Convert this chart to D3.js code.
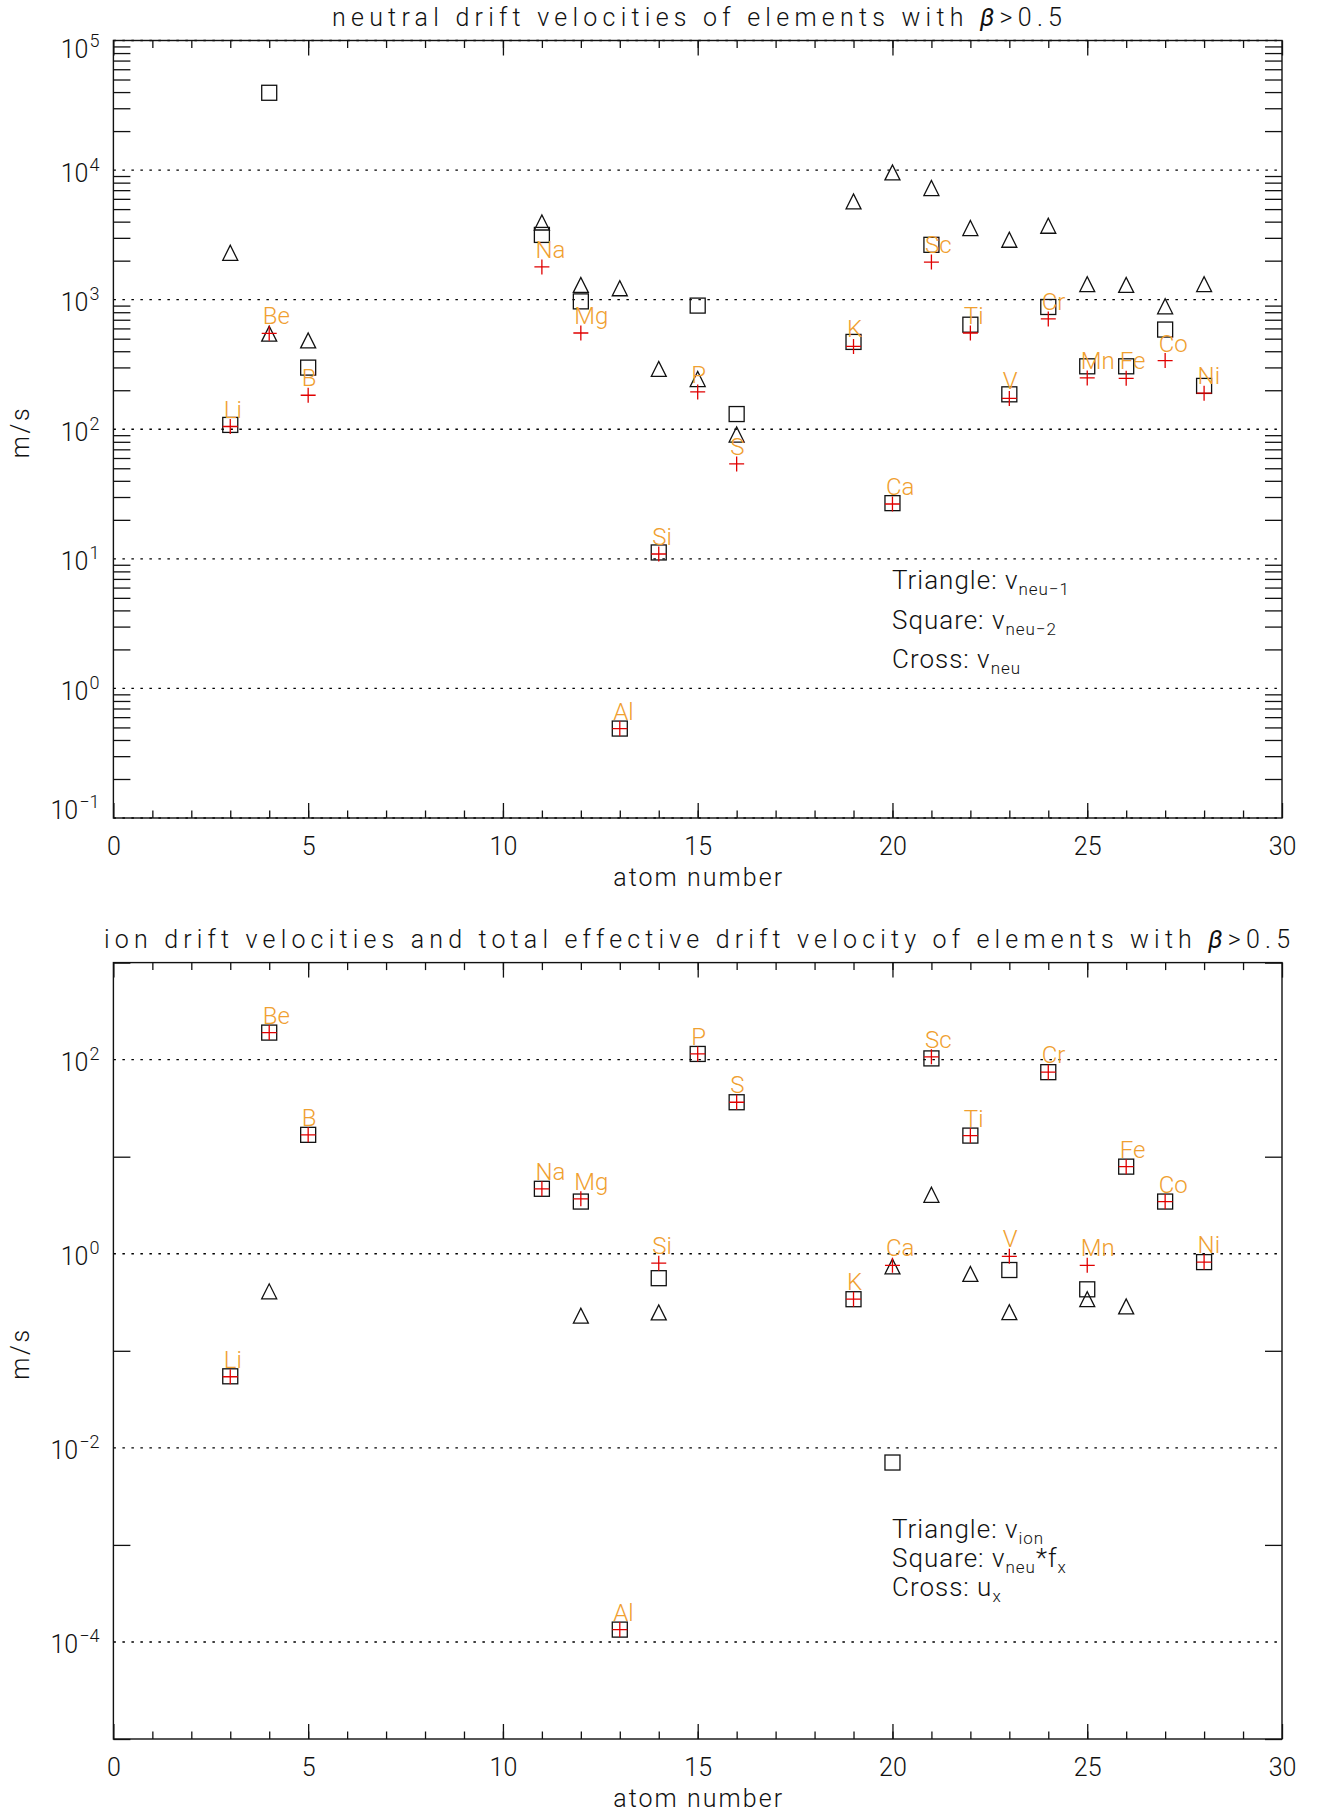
<!DOCTYPE html>
<html lang="en">
<head>
<meta charset="UTF-8">
<title>Drift velocities of elements with beta &gt; 0.5</title>
<script src="https://d3js.org/d3.v7.min.js"></script>
<style>
    body { margin: 0; background: #fff; }
    svg { display: block; font-family: Roboto, 'Liberation Sans', 'DejaVu Sans', sans-serif; font-weight: 300; }
    .axis path { display: none; }
    .axis line { stroke: #111; stroke-width: 1.3; }
    .axis text { font-size: 25px; fill: #111; font-family: Roboto, 'Liberation Sans', sans-serif; font-weight: 300; }
    .frame { fill: none; stroke: #111; stroke-width: 1.4; }
    .grid { stroke: #000; stroke-width: 1.4; stroke-dasharray: 2.5 6.5; }
    .txt { font-size: 25px; fill: #111; }
    .legend { font-size: 26px; fill: #111; letter-spacing: 1px; }
    .elem { font-size: 24px; fill: #f0a030; }
    .tri, .sq { fill: none; stroke: #111; stroke-width: 1.3; }
    .cross { fill: none; stroke: #e00000; stroke-width: 1.3; }
</style>
</head>
<body>
<div id="chart"></div>
<script>
    // elements with beta > 0.5
    const elements = ["Li", "Be", "B", "Na", "Mg", "Al", "Si", "P", "S", "K", "Ca", "Sc", "Ti", "V", "Cr", "Mn", "Fe", "Co", "Ni"];
    const atomNumber = [3, 4, 5, 11, 12, 13, 14, 15, 16, 19, 20, 21, 22, 23, 24, 25, 26, 27, 28];

    // upper panel (m/s)
    const vNeu1 = [2300, 547, 485, 3940, 1300, 1225, 292, 244, 91, 5730, 9600, 7270, 3570, 2900, 3720, 1316, 1300, 889, 1316];
    const vNeu2 = [108, 39500, 299, 3160, 970, 0.49, 11.2, 900, 131, 472, 26.9, 2650, 641, 186, 878, 306, 306, 588, 216];
    const vNeu  = [105, 550, 183, 1790, 553, 0.49, 10.9, 194, 54, 436, 26.5, 1950, 553, 173, 710, 249, 247, 339, 190];

    // lower panel (m/s), null = not shown
    const vIon   = [null, 0.41, null, null, 0.23, null, 0.249, null, null, null, 0.74, 4.05, 0.62, 0.25, null, 0.34, 0.287, null, null];
    const vNeuFx = [0.0546, 190, 16.8, 4.67, 3.45, 1.34e-4, 0.56, 114.5, 36.4, 0.34, 0.00706, 103, 16.5, 0.68, 74.3, 0.43, 7.9, 3.45, 0.82];
    const uX     = [0.054, 190, 16.8, 4.67, 3.68, 1.34e-4, 0.80, 114.5, 36.4, 0.34, 0.76, 107, 16.5, 0.94, 74.3, 0.76, 7.9, 3.45, 0.82];

    // tick labels
    const xTicks = [0, 5, 10, 15, 20, 25, 30];
    const xMinorTicks = d3.range(1, 30);
    const topExponents = [-1, 0, 1, 2, 3, 4, 5];
    const bottomExponents = [-4, -2, 0, 2];
    const bottomMinorExponents = [-5, -3, -1, 1, 3];

    const W = 1320, H = 1814;
    const svg = d3.select("#chart").append("svg")
        .attr("width", W)
        .attr("height", H);

    const x = d3.scaleLinear().domain([0, 30]).range([113.4, 1282]);
    const X0 = x.range()[0], X1 = x.range()[1];

    // minor log ticks 2..9 for every decade of the upper panel
    const topMinor = [];
    topExponents.slice(0, -1).forEach(e => {
        for (let k = 2; k <= 9; k++) topMinor.push(k * Math.pow(10, e));
    });

    const panels = [
        {
            top: 40.5, bottom: 818, domain: [1e-1, 1e5],
            exps: topExponents, minor: topMinor,
            title: ["neutral drift velocities of elements with ", "β", ">0.5"],
            titleX: 332, titleY: 26, titleLen: 730,
            tri: vNeu1, sq: vNeu2, cr: vNeu,
            legendX: 892, legendY: [589, 629, 668],
            legend: [["Triangle:  v", "neu−1"], ["Square:  v", "neu−2"], ["Cross:  v", "neu"]],
            xTitleY: 886
        },
        {
            top: 962.6, bottom: 1739, domain: [1e-5, 1e3],
            exps: bottomExponents, minor: bottomMinorExponents.map(e => Math.pow(10, e)),
            title: ["ion drift velocities and total effective drift velocity of elements with ", "β", ">0.5"],
            titleX: 104, titleY: 948, titleLen: 1186,
            tri: vIon, sq: vNeuFx, cr: uX,
            legendX: 892, legendY: [1538, 1567, 1596],
            legend: [["Triangle:  v", "ion"], ["Square:  v", "neu", "*f", "x"], ["Cross:  u", "x"]],
            xTitleY: 1807
        }
    ];

    panels.forEach(drawPanel);

    function drawPanel(p) {
        const y = d3.scaleLog().domain(p.domain).range([p.bottom, p.top]);
        const g = svg.append("g");
        const maxExp = Math.round(Math.log10(p.domain[1]));
        const minExp = Math.round(Math.log10(p.domain[0]));

        // dotted grid at labelled decades
        g.selectAll(".grid")
            .data(p.exps)
            .enter().append("line")
            .attr("class", "grid")
            .attr("x1", X0).attr("x2", X1)
            .attr("y1", e => y(Math.pow(10, e)))
            .attr("y2", e => y(Math.pow(10, e)));

        // frame
        g.append("rect")
            .attr("class", "frame")
            .attr("x", X0).attr("y", p.top)
            .attr("width", X1 - X0).attr("height", p.bottom - p.top);

        // y minor ticks, left and right
        g.append("g").attr("class", "axis")
            .attr("transform", "translate(" + X0 + ",0)")
            .call(d3.axisLeft(y).tickValues(p.minor).tickSize(-17).tickFormat(""));
        g.append("g").attr("class", "axis")
            .attr("transform", "translate(" + X1 + ",0)")
            .call(d3.axisRight(y).tickValues(p.minor).tickSize(-17).tickFormat(""));

        // x ticks bottom
        g.append("g").attr("class", "axis")
            .attr("transform", "translate(0," + p.bottom + ")")
            .call(d3.axisBottom(x).tickValues(xMinorTicks).tickSize(-7.5).tickFormat(""));
        g.append("g").attr("class", "axis")
            .attr("transform", "translate(0," + p.bottom + ")")
            .call(d3.axisBottom(x).tickValues(xTicks).tickSizeInner(-15).tickSizeOuter(0).tickPadding(19.5).tickFormat(d3.format("d")));
        // x ticks top
        g.append("g").attr("class", "axis")
            .attr("transform", "translate(0," + p.top + ")")
            .call(d3.axisTop(x).tickValues(xMinorTicks).tickSize(-7.5).tickFormat(""));
        g.append("g").attr("class", "axis")
            .attr("transform", "translate(0," + p.top + ")")
            .call(d3.axisTop(x).tickValues(xTicks).tickSize(-15).tickFormat(""));

        // y tick labels 10^n
        const yl = g.selectAll(".ylab")
            .data(p.exps)
            .enter().append("text")
            .attr("class", "txt")
            .attr("text-anchor", "end")
            .attr("x", X0 - 14)
            .attr("y", e => {
                const yy = y(Math.pow(10, e));
                if (e === maxExp) return yy + 17;
                if (e === minExp) return yy + 1;
                return yy + 11.5;
            });
        yl.append("tspan").text("10");
        yl.append("tspan")
            .attr("dy", -11)
            .attr("dx", 1)
            .style("font-size", "18px")
            .text(e => (e < 0 ? "−" + (-e) : String(e)));

        // y axis title
        const midY = (p.top + p.bottom) / 2;
        g.append("text")
            .attr("class", "txt")
            .attr("text-anchor", "middle")
            .attr("transform", "translate(29," + (midY + 4) + ") rotate(-90)")
            .attr("textLength", 50)
            .attr("lengthAdjust", "spacing")
            .text("m/s");

        // x axis title
        g.append("text")
            .attr("class", "txt")
            .attr("text-anchor", "middle")
            .attr("x", (X0 + X1) / 2)
            .attr("y", p.xTitleY)
            .attr("textLength", 169)
            .attr("lengthAdjust", "spacing")
            .text("atom number");

        // title
        const t = g.append("text")
            .attr("class", "txt")
            .attr("x", p.titleX)
            .attr("y", p.titleY)
            .attr("textLength", p.titleLen)
            .attr("lengthAdjust", "spacing");
        t.append("tspan").text(p.title[0]);
        t.append("tspan").style("font-style", "italic").style("font-weight", "400").text(p.title[1]);
        t.append("tspan").text(p.title[2]);

        // points
        const rows = elements.map((name, i) => ({
            name: name, z: atomNumber[i], tri: p.tri[i], sq: p.sq[i], cr: p.cr[i]
        }));
        const s = 7.5;

        g.selectAll(".tri")
            .data(rows.filter(d => d.tri != null))
            .enter().append("path")
            .attr("class", "tri")
            .attr("d", d => {
                const cx = x(d.z), cy = y(d.tri);
                return "M" + (cx - s) + "," + (cy + s) + "L" + cx + "," + (cy - s) + "L" + (cx + s) + "," + (cy + s) + "Z";
            });

        g.selectAll(".sq")
            .data(rows.filter(d => d.sq != null))
            .enter().append("rect")
            .attr("class", "sq")
            .attr("x", d => x(d.z) - s)
            .attr("y", d => y(d.sq) - s)
            .attr("width", 2 * s)
            .attr("height", 2 * s);

        g.selectAll(".cross")
            .data(rows.filter(d => d.cr != null))
            .enter().append("path")
            .attr("class", "cross")
            .attr("d", d => {
                const cx = x(d.z), cy = y(d.cr);
                return "M" + (cx - s) + "," + cy + "H" + (cx + s) + "M" + cx + "," + (cy - s) + "V" + (cy + s);
            });

        g.selectAll(".elem")
            .data(rows)
            .enter().append("text")
            .attr("class", "elem")
            .attr("x", d => x(d.z) - 6.5)
            .attr("y", d => y(d.cr) - 9)
            .text(d => d.name);

        // legend
        p.legend.forEach((parts, i) => {
            const lt = g.append("text")
                .attr("class", "legend")
                .attr("x", p.legendX)
                .attr("y", p.legendY[i]);
            parts.forEach((str, j) => {
                const sub = j % 2 === 1;
                const ts = lt.append("tspan").text(str);
                if (sub) {
                    ts.attr("dy", 6).style("font-size", "17px");
                } else if (j > 0) {
                    ts.attr("dy", -6);
                }
            });
        });
    }
</script>
</body>
</html>
